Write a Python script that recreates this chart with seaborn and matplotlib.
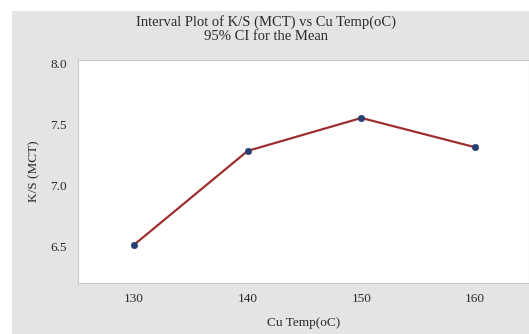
import matplotlib
matplotlib.use("Agg")
import matplotlib.pyplot as plt
import seaborn as sns
import pandas as pd
from matplotlib.patches import Rectangle

temps = [130, 140, 150, 160]
ks_mct = [6.51, 7.28, 7.55, 7.31]
x_ticks = [130, 140, 150, 160]
y_ticks = [6.5, 7.0, 7.5, 8.0]

df = pd.DataFrame({"Cu Temp(oC)": temps, "K/S (MCT)": ks_mct})

sns.set_style("white")
plt.rcParams["font.family"] = ["Liberation Serif", "DejaVu Serif"]

fig = plt.figure(figsize=(5.29, 3.34), dpi=100)
fig.patch.set_facecolor("white")
bg = Rectangle((12 / 529, 0), 1 - 12 / 529, 1 - 11 / 334,
               transform=fig.transFigure, facecolor="#e4e4e4",
               edgecolor="none", zorder=-10)
fig.patches.append(bg)

ax = fig.add_axes([78 / 529, 51 / 334, 1 - 78 / 529, 223 / 334])
ax.set_zorder(1)
ax.set_facecolor("white")

sns.lineplot(data=df, x="Cu Temp(oC)", y="K/S (MCT)", ax=ax,
             color="#9e2f2f", linewidth=1.6, zorder=2)
sns.scatterplot(data=df, x="Cu Temp(oC)", y="K/S (MCT)", ax=ax,
                color="#243f73", s=22, edgecolor="#243f73", zorder=3)

ax.set_xlim(125.07, 164.75)
ax.set_ylim(6.197, 8.025)
ax.set_xticks(x_ticks)
ax.set_yticks(y_ticks)
ax.set_yticklabels([f"{v:.1f}" for v in y_ticks])
ax.tick_params(axis="both", labelsize=9.5, colors="#2a2a2a", length=2)
ax.tick_params(axis="y", pad=6)
ax.tick_params(axis="x", pad=5)
ax.tick_params(axis="both", color="#bbbbbb")
for s in ax.spines.values():
    s.set_color("#c8c8c8")
    s.set_linewidth(0.8)

ax.set_xlabel("Cu Temp(oC)", fontsize=9.5, color="#2a2a2a", labelpad=9)
ax.set_ylabel("K/S (MCT)", fontsize=9.5, color="#2a2a2a", labelpad=7)

fig.text(266 / 529, 1 - 22 / 334, "Interval Plot of K/S (MCT) vs Cu Temp(oC)",
         ha="center", va="center", fontsize=10.5, color="#2a2a2a")
fig.text(266 / 529, 1 - 37 / 334, "95% CI for the Mean",
         ha="center", va="center", fontsize=10.5, color="#2a2a2a")

fig.savefig("out.png", dpi=100)
